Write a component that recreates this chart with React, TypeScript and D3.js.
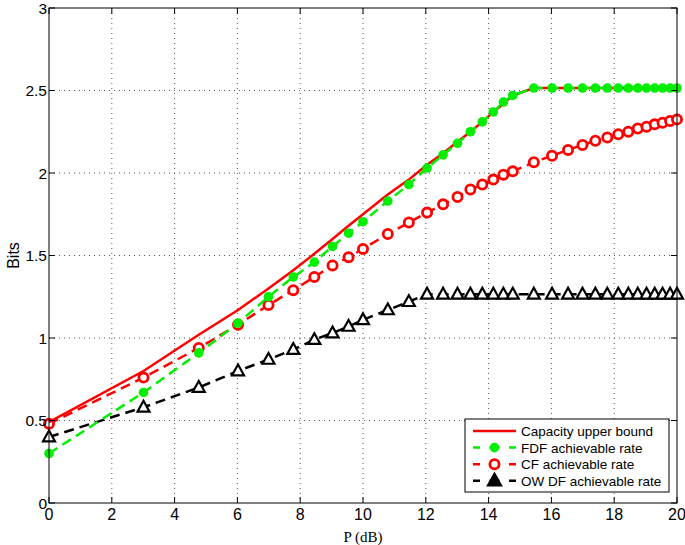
import React from 'react';
import * as d3 from 'd3';

// power samples in dB (markers sit on every sample)
const powerDb = [0, 3.01, 4.77, 6.02, 6.99, 7.78, 8.45, 9.03, 9.54, 10, 10.79, 11.46, 12.04, 12.55, 13.01,
  13.42, 13.8, 14.15, 14.47, 14.77, 15.44, 16.02, 16.53, 16.99, 17.4, 17.78, 18.13, 18.45, 18.75, 19.03,
  19.29, 19.54, 19.78, 20];

const capacity = [0.49, 0.8, 1.02, 1.17, 1.3, 1.41, 1.51, 1.6, 1.68, 1.75, 1.87, 1.96, 2.05, 2.12, 2.19,
  2.25, 2.31, 2.37, 2.42, 2.47, 2.515, 2.515, 2.515, 2.515, 2.515, 2.515, 2.515, 2.515, 2.515, 2.515,
  2.515, 2.515, 2.515, 2.515];

const fdfRate = [0.3, 0.67, 0.91, 1.09, 1.25, 1.37, 1.46, 1.555, 1.635, 1.705, 1.83, 1.93, 2.03, 2.11, 2.18,
  2.25, 2.31, 2.37, 2.43, 2.47, 2.515, 2.515, 2.515, 2.515, 2.515, 2.515, 2.515, 2.515, 2.515, 2.515,
  2.515, 2.515, 2.515, 2.515];

const cfRate = [0.48, 0.76, 0.94, 1.08, 1.2, 1.29, 1.37, 1.44, 1.49, 1.54, 1.63, 1.7, 1.76, 1.81, 1.855,
  1.9, 1.93, 1.96, 1.99, 2.01, 2.065, 2.105, 2.14, 2.17, 2.195, 2.215, 2.235, 2.25, 2.27, 2.28,
  2.295, 2.305, 2.315, 2.325];

const owdfRate = [0.4, 0.58, 0.7, 0.8, 0.87, 0.93, 0.99, 1.03, 1.07, 1.11, 1.17, 1.22, 1.265, 1.265, 1.265,
  1.265, 1.265, 1.265, 1.265, 1.265, 1.265, 1.265, 1.265, 1.265, 1.265, 1.265, 1.265, 1.265, 1.265, 1.265,
  1.265, 1.265, 1.265, 1.265];

const xTicks = [0, 2, 4, 6, 8, 10, 12, 14, 16, 18, 20];
const yTicks = [0, 0.5, 1, 1.5, 2, 2.5, 3];
const yTickLabels = ['0', '0.5', '1', '1.5', '2', '2.5', '3'];

const legendLabels = ['Capacity upper bound', 'FDF achievable rate', 'CF achievable rate', 'OW DF achievable rate'];

const WIDTH = 685;
const HEIGHT = 545;
const margin = { top: 8, right: 8, bottom: 42, left: 49 };
const SANS = '"Liberation Sans", Arial, Helvetica, sans-serif';

function Triangle({ cx, cy, size, filled })
{
  const h = size * 0.9;
  const pts = [[cx, cy - h * 0.6], [cx - size / 2, cy + h * 0.4], [cx + size / 2, cy + h * 0.4]];
  return <polygon points={pts.map((p) => p.join(',')).join(' ')} fill={filled ? 'black' : 'white'}
    stroke="black" strokeWidth={2.2} strokeLinejoin="miter" />;
}

export default function App()
{
  const innerW = WIDTH - margin.left - margin.right;
  const innerH = HEIGHT - margin.top - margin.bottom;
  const x = d3.scaleLinear().domain([0, 20]).range([0, innerW]);
  const y = d3.scaleLinear().domain([0, 3]).range([innerH, 0]);

  const lineOf = (vals) => d3.line().x((d, i) => x(powerDb[i])).y((d) => y(d))(vals);

  const dash = '10,6';

  const legX = 465 - margin.left;
  const legY = 419 - margin.top;
  const legW = 204;
  const legH = 73;
  const rowY = (i) => legY + 12 + i * 16.6;

  return (
    <div style={{ position: 'absolute', left: 0, top: 0 }}>
      <svg width={WIDTH} height={HEIGHT} style={{ display: 'block', background: 'white' }}>
        <g transform={`translate(${margin.left},${margin.top})`}>
          {/* grid */}
          {xTicks.slice(1, -1).map((t) => (
            <line key={'gx' + t} x1={x(t)} x2={x(t)} y1={0} y2={innerH} stroke="#555" strokeWidth={1}
              strokeDasharray="1,4" />
          ))}
          {yTicks.slice(1, -1).map((t) => (
            <line key={'gy' + t} x1={0} x2={innerW} y1={y(t)} y2={y(t)} stroke="#555" strokeWidth={1}
              strokeDasharray="1,4" />
          ))}

          {/* series */}
          <path d={lineOf(owdfRate)} fill="none" stroke="black" strokeWidth={2.5} strokeDasharray={dash} />
          {powerDb.map((p, i) => (
            <Triangle key={'t' + i} cx={x(p)} cy={y(owdfRate[i])} size={12} filled={false} />
          ))}

          <path d={lineOf(cfRate)} fill="none" stroke="#ff0000" strokeWidth={2.5} strokeDasharray={dash} />
          {powerDb.map((p, i) => (
            <circle key={'c' + i} cx={x(p)} cy={y(cfRate[i])} r={4.6} fill="white" stroke="#ff0000" strokeWidth={2.8} />
          ))}

          <path d={lineOf(capacity)} fill="none" stroke="#ff0000" strokeWidth={2.5} />

          <path d={lineOf(fdfRate)} fill="none" stroke="#00ee00" strokeWidth={2.5} strokeDasharray={dash} />
          {powerDb.map((p, i) => (
            <circle key={'f' + i} cx={x(p)} cy={y(fdfRate[i])} r={4.8} fill="#00ee00" />
          ))}

          {/* box + ticks */}
          <rect x={0} y={0} width={innerW} height={innerH} fill="none" stroke="black" strokeWidth={1} />
          {xTicks.map((t) => (
            <g key={'tx' + t}>
              <line x1={x(t)} x2={x(t)} y1={innerH} y2={innerH - 6} stroke="black" />
              <line x1={x(t)} x2={x(t)} y1={0} y2={6} stroke="black" />
              <text x={x(t)} y={innerH + 17} textAnchor="middle" fontFamily={SANS} fontSize={16}>{t}</text>
            </g>
          ))}
          {yTicks.map((t, i) => (
            <g key={'ty' + t}>
              <line x1={0} x2={6} y1={y(t)} y2={y(t)} stroke="black" />
              <line x1={innerW} x2={innerW - 6} y1={y(t)} y2={y(t)} stroke="black" />
              <text x={-2} y={y(t) + 5.5} textAnchor="end" fontFamily={SANS} fontSize={15.5}>{yTickLabels[i]}</text>
            </g>
          ))}

          {/* legend */}
          <rect x={legX} y={legY} width={legW} height={legH} fill="white" stroke="black" strokeWidth={1} />
          {legendLabels.map((lab, i) => (
            <text key={lab} x={legX + 56} y={rowY(i) + 5} fontFamily={SANS} fontSize={13.5}>{lab}</text>
          ))}
          <line x1={legX + 8} x2={legX + 51} y1={rowY(0)} y2={rowY(0)} stroke="#ff0000" strokeWidth={2.5} />
          <line x1={legX + 8} x2={legX + 51} y1={rowY(1)} y2={rowY(1)} stroke="#00ee00" strokeWidth={2.5} strokeDasharray="7,9.5,10,9.5,7" />
          <circle cx={legX + 29.5} cy={rowY(1)} r={4.8} fill="#00ee00" />
          <line x1={legX + 8} x2={legX + 51} y1={rowY(2)} y2={rowY(2)} stroke="#ff0000" strokeWidth={2.5} strokeDasharray="7,9.5,10,9.5,7" />
          <circle cx={legX + 29.5} cy={rowY(2)} r={4.6} fill="white" stroke="#ff0000" strokeWidth={2.8} />
          <line x1={legX + 8} x2={legX + 51} y1={rowY(3)} y2={rowY(3)} stroke="black" strokeWidth={2.5} strokeDasharray="7,9.5,10,9.5,7" />
          <Triangle cx={legX + 29.5} cy={rowY(3)} size={13} filled={true} />
        </g>

        <text transform={`translate(19,${margin.top + innerH / 2}) rotate(-90)`} textAnchor="middle"
          fontFamily={SANS} fontSize={16}>Bits</text>
        <text x={margin.left + innerW / 2} y={542} textAnchor="middle"
          fontFamily='"Liberation Serif", "Times New Roman", serif' fontSize={15}>P (dB)</text>
      </svg>
    </div>
  );
}
